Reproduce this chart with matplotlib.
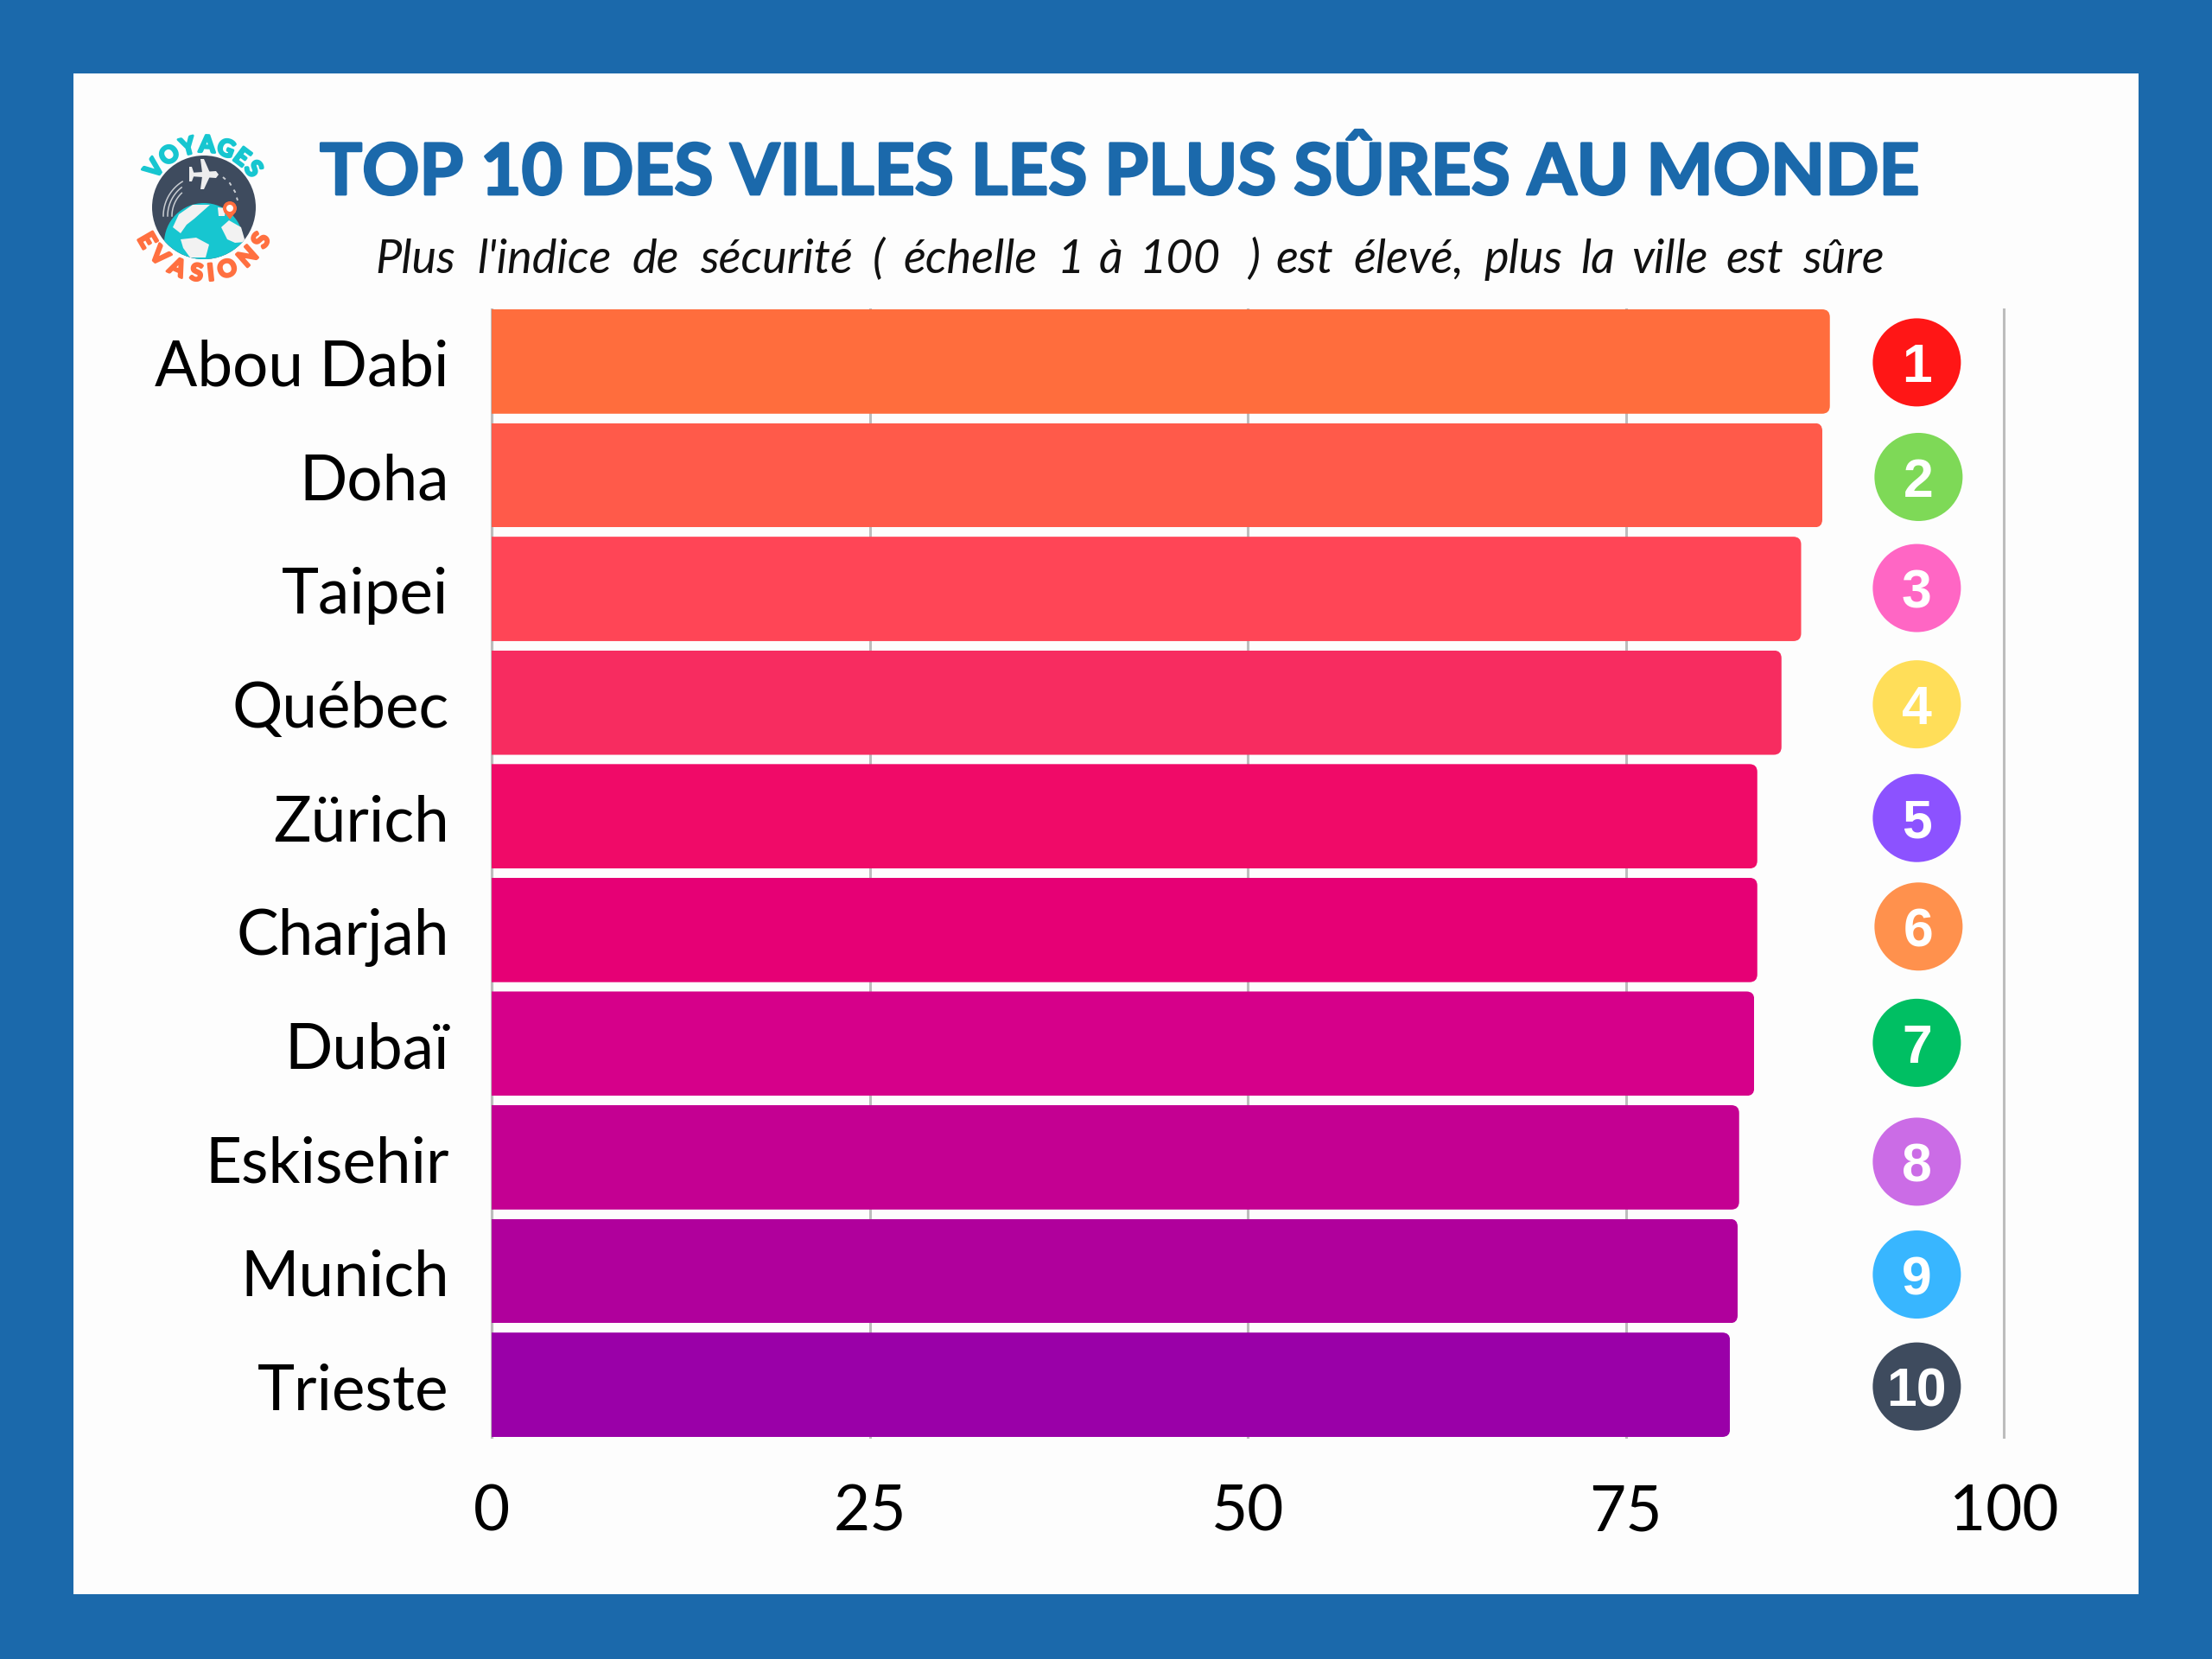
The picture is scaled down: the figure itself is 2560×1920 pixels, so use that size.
import re
import numpy as np
import matplotlib
matplotlib.use("Agg")
import matplotlib.pyplot as plt
import matplotlib.patheffects as pe
from matplotlib.patches import Rectangle, Circle, Polygon, PathPatch
from matplotlib.path import Path
from matplotlib.transforms import ScaledTranslation

# ---- data
cities = ["Abou Dabi", "Doha", "Taipei", "Québec", "Zürich", "Charjah", "Dubaï", "Eskisehir", "Munich", "Trieste"]
index_values = [88.5, 88.0, 86.6, 85.3, 83.7, 83.7, 83.5, 82.5, 82.4, 81.9]
ranks = ["1", "2", "3", "4", "5", "6", "7", "8", "9", "10"]
bar_colors = ["#FF6D3D", "#FF5A4A", "#FF4556", "#F72C60", "#F00A68", "#E60075", "#D6008A", "#C40092", "#B0009C", "#9A00A8"]
badge_colors = ["#FF1616", "#7ED957", "#FF66C4", "#FFDE59", "#8C52FF", "#FF914D", "#00BF63", "#CB6CE6", "#38B6FF", "#3E4B5E"]
x_ticks = [0, 25, 50, 75, 100]
title = "TOP 10 DES VILLES LES PLUS SÛRES AU MONDE"
subtitle = "Plus l'indice de sécurité ( échelle 1 à 100  ) est élevé, plus la ville est sûre"

BLUE = "#1B69AB"
PX = 72 / 100  # points per pixel at dpi 100

fig = plt.figure(figsize=(25.6, 19.2), dpi=100, facecolor=BLUE)
renderer = fig.canvas.get_renderer()

# ---- page overlay in pixel coordinates
page = fig.add_axes([0, 0, 1, 1], zorder=0)
page.set_xlim(0, 2560)
page.set_ylim(1920, 0)
page.axis("off")
page.add_patch(Rectangle((85, 85), 2390, 1760, fc="#FDFDFD", ec="none"))

page.text(1296, 225, title, family="Lato", weight="bold", fontsize=59, color=BLUE, ha="center", va="baseline",
          path_effects=[pe.withStroke(linewidth=2.0, foreground=BLUE)])


def natural_width(s, size):
    t = page.text(0, 0, s, family="Lato", style="italic", fontsize=size)
    w = t.get_window_extent(renderer).width
    t.remove()
    return w


# the subtitle is letter-spaced in the original: words are laid out across its span
sub_size, sub_left, sub_right, sub_base = 39, 430, 2185, 316
total = natural_width(subtitle.replace(" ", "\u00a0"), sub_size)
for m in re.finditer(r"\S+", subtitle):
    start = natural_width(subtitle[:m.start()].replace(" ", "\u00a0") + ".", sub_size) - natural_width(".", sub_size) if m.start() else 0
    w = natural_width(m.group(), sub_size)
    centre = sub_left + (start + w / 2) / total * (sub_right - sub_left)
    page.text(centre, sub_base, m.group(), family="Lato", style="italic", fontsize=sub_size, color="#111111",
              ha="center", va="baseline")

# ---- logo
lx, ly = 236, 240
disc = Circle((lx, ly), 60, fc="#3E4B5E", ec="none", zorder=2)
page.add_patch(disc)
globe = Circle((lx, 281), 46, fc="#17C6D0", ec="none", zorder=3)
page.add_patch(globe)
globe.set_clip_path(disc)
land = [
    [(200, 263), (207, 248), (223, 237), (243, 237), (234, 245), (225, 253), (216, 260), (209, 270)],
    [(209, 277), (227, 275), (242, 283), (238, 298), (220, 298), (212, 287)],
    [(256, 263), (265, 255), (279, 263), (284, 280), (272, 281), (263, 277)],
    [(252, 240), (261, 241), (260, 250), (253, 250)],
]
for pts in land:
    p = Polygon(pts, closed=True, fc="#F2F2F2", ec="none", zorder=4)
    page.add_patch(p)
    p.set_clip_path(disc)
# plane
page.add_patch(Polygon([(220, 200), (250, 198), (253, 202), (250, 206), (220, 204)], fc="#EDEDED", ec="none", zorder=4))
page.add_patch(Polygon([(232, 184), (236, 184), (243, 200), (243, 204), (236, 219), (232, 219), (234, 204), (234, 200)], fc="#EDEDED", ec="none", zorder=4))
page.add_patch(Polygon([(219, 193), (222, 193), (225, 202), (222, 210), (219, 210)], fc="#EDEDED", ec="none", zorder=4))
# trails
for r, end in ((47, 238), (42, 232), (37, 226)):
    th = np.radians(np.linspace(180, end, 40))
    page.plot(236 + r * np.cos(th), 250 + r * np.sin(th), color="#C9CDD2", lw=1.1, zorder=3)
page.plot([258, 266, 272, 275], [205, 212, 222, 232], color="#C9CDD2", lw=1.4, ls=(0, (2, 3)), zorder=3)
# pin
page.add_patch(Circle((266, 241), 8, fc="#FF6D3D", ec="none", zorder=5))
page.add_patch(Polygon([(259, 245), (273, 245), (266, 254)], fc="#FF6D3D", ec="none", zorder=5))
page.add_patch(Circle((266, 241), 4, fc="white", ec="none", zorder=6))
# arc letters, angles follow the letter widths
for s, adv, span, r, col, top in (("VOYAGES", [1, 1.1, 1, 1, 1, .85, .85], 52, 72, "#17C6D0", True),
                                  ("EVASIONS", [.8, .95, .95, .8, .45, 1.05, 1.05, .8], 60, 77, "#FF7040", False)):
    adv = np.array(adv)
    mid = np.cumsum(adv) - adv / 2
    angles = -span + 2 * span * (mid - mid[0]) / (mid[-1] - mid[0])
    for ch, a in zip(s, angles):
        t = np.radians(a)
        if top:
            x, y, rot = lx + r * np.sin(t), ly - r * np.cos(t), -a
        else:
            x, y, rot = lx + r * np.sin(t), ly + r * np.cos(t), a
        page.text(x, y, ch, family="Lato", weight="bold", fontsize=19.5, color=col, ha="center", va="center",
                  rotation=rot, rotation_mode="anchor", zorder=7,
                  path_effects=[pe.withStroke(linewidth=2.0, foreground=col)])

# ---- chart
ax = fig.add_axes([569 / 2560, 1 - 1663 / 1920, 1750 / 2560, 1305 / 1920], zorder=1)
ax.patch.set_alpha(0)
ypos = np.arange(len(cities))
bh = 0.918
bars = ax.barh(ypos, index_values, height=bh, color=bar_colors, zorder=3)
ax.set_xlim(0, 100)
ax.set_ylim(9 + bh / 2, -bh / 2)
ax.set_xticks(x_ticks)
ax.set_yticks(ypos, cities)
ax.xaxis.grid(True, color="#BDBDBD", lw=2.2, zorder=1, clip_on=False)
ax.set_axisbelow(True)
for s in ("top", "right", "bottom"):
    ax.spines[s].set_visible(False)
ax.spines["left"].set_color("#BDBDBD")
ax.spines["left"].set_linewidth(2.2)
ax.tick_params(axis="both", length=0, labelsize=52.5, labelcolor="black")
ax.tick_params(axis="x", pad=39.5)
ax.tick_params(axis="y", pad=35.5)
nudge = ScaledTranslation(0, -1.6 / 100, fig.dpi_scale_trans)
for lab in ax.get_xticklabels() + ax.get_yticklabels():
    lab.set_family("Lato")
for lab in ax.get_yticklabels():
    lab.set_transform(lab.get_transform() + nudge)

# rounded right corners (about 9 px)
rx, ry = 9 / 17.5, 9 / 131.5
for b in bars:
    x0, y0, w, h = b.get_x(), b.get_y(), b.get_width(), b.get_height()
    x1, y1 = x0 + w, y0 + h
    verts = [(x0, y0), (x1 - rx, y0), (x1, y0), (x1, y0 + ry), (x1, y1 - ry), (x1, y1), (x1 - rx, y1), (x0, y1), (x0, y0)]
    codes = [Path.MOVETO, Path.LINETO, Path.CURVE3, Path.CURVE3, Path.LINETO, Path.CURVE3, Path.CURVE3, Path.LINETO, Path.CLOSEPOLY]
    b.set_clip_path(PathPatch(Path(verts, codes), transform=ax.transData))

# rank badges: the original's hand placement differs slightly from row to row (pixels)
badge_x = 94.25
nudge_x_px = [0, 2, 0, 0, 0, 2, 0, 0, 0, 0]
nudge_y_px = [1, 2, -1, 2, 2, -4, -1, 5, 4, 2]
bx = [badge_x + d / 17.5 for d in nudge_x_px]
by = [y + d / 131.5 for y, d in zip(ypos, nudge_y_px)]
ax.scatter(bx, by, s=(102 * PX) ** 2, c=badge_colors, linewidths=0, zorder=4, clip_on=False)
for x, y, r in zip(bx, by, ranks):
    ax.text(x, y, r, family="Liberation Sans", weight="bold", fontsize=45, color="white",
            ha="center", va="center_baseline", zorder=5)

fig.savefig("out.png", dpi=100, facecolor=BLUE)
